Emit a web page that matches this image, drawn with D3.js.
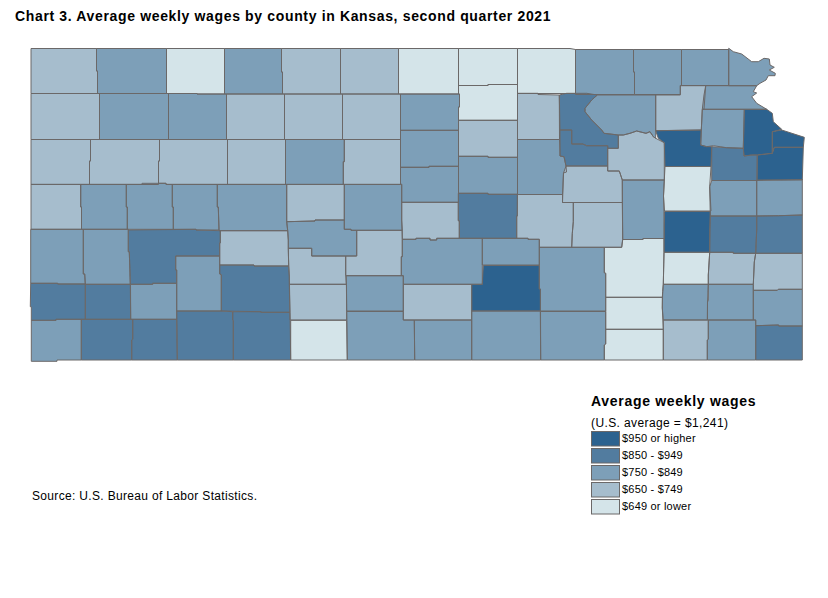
<!DOCTYPE html>
<html>
<head>
<meta charset="utf-8">
<title>Average weekly wages by county in Kansas</title>
<script src="https://cdnjs.cloudflare.com/ajax/libs/d3/7.8.5/d3.min.js"></script>
<style>
    html, body { margin: 0; padding: 0; background: #ffffff; }
    text { font-family: "Liberation Sans", Arial, sans-serif; fill: #000000; }
</style>
</head>
<body>
<div id="chart"></div>
<script>
var titleText = "Chart 3. Average weekly wages by county in Kansas, second quarter 2021";
var sourceText = "Source: U.S. Bureau of Labor Statistics.";
var legendTitle = "Average weekly wages";
var legendNote = "(U.S. average = $1,241)";

// wage bands, highest first, same order as the legend
var bandLabels = ["$950 or higher", "$850 - $949", "$750 - $849", "$650 - $749", "$649 or lower"];
var bandColors = ["#2c628f", "#527c9f", "#7d9fb8", "#a6bdcd", "#d4e4e9"];

var countyNames = [
    "Cheyenne", "Rawlins", "Decatur", "Norton", "Phillips", "Smith", "Jewell", "Republic", "Washington", "Marshall", "Nemaha", "Brown", "Doniphan",
    "Sherman", "Thomas", "Sheridan", "Graham", "Rooks", "Osborne", "Mitchell", "Cloud", "Clay", "Riley", "Pottawatomie", "Jackson", "Atchison", "Jefferson", "Leavenworth", "Wyandotte", "Johnson", "Douglas", "Shawnee", "Wabaunsee", "Geary", "Dickinson", "Morris", "Lyon", "Osage", "Franklin", "Miami",
    "Wallace", "Logan", "Gove", "Trego", "Ellis", "Russell", "Lincoln", "Ottawa", "Saline", "Ellsworth", "Rice", "McPherson", "Barton", "Rush",
    "Greeley", "Wichita", "Scott", "Lane", "Ness", "Pawnee", "Hodgeman", "Finney", "Hamilton", "Kearny", "Stanton", "Grant", "Haskell", "Gray", "Ford", "Morton", "Stevens", "Seward", "Meade", "Clark",
    "Edwards", "Stafford", "Reno", "Harvey", "Sedgwick", "Butler", "Cowley", "Sumner", "Kingman", "Harper", "Pratt", "Barber", "Comanche", "Kiowa",
    "Chase", "Marion", "Coffey", "Anderson", "Linn", "Woodson", "Allen", "Bourbon", "Wilson", "Neosho", "Crawford", "Cherokee", "Labette", "Montgomery", "Chautauqua", "Elk", "Greenwood"
];

var countyBands = [
    "$650 - $749", "$750 - $849", "$649 or lower", "$750 - $849", "$650 - $749", "$650 - $749", "$649 or lower", "$649 or lower", "$649 or lower", "$750 - $849", "$750 - $849", "$750 - $849", "$750 - $849",
    "$650 - $749", "$750 - $849", "$750 - $849", "$650 - $749", "$650 - $749", "$650 - $749", "$750 - $849", "$649 or lower", "$650 - $749", "$850 - $949", "$750 - $849", "$650 - $749", "$750 - $849", "$750 - $849", "$950 or higher", "$950 or higher", "$950 or higher", "$850 - $949", "$950 or higher", "$650 - $749", "$850 - $949", "$750 - $849", "$650 - $749", "$750 - $849", "$649 or lower", "$750 - $849", "$750 - $849",
    "$650 - $749", "$650 - $749", "$650 - $749", "$650 - $749", "$750 - $849", "$650 - $749", "$750 - $849", "$650 - $749", "$750 - $849", "$750 - $849", "$650 - $749", "$850 - $949", "$750 - $849", "$650 - $749",
    "$650 - $749", "$750 - $849", "$750 - $849", "$750 - $849", "$750 - $849", "$750 - $849", "$650 - $749", "$850 - $949", "$750 - $849", "$750 - $849", "$850 - $949", "$850 - $949", "$750 - $849", "$750 - $849", "$850 - $949", "$750 - $849", "$850 - $949", "$850 - $949", "$850 - $949", "$850 - $949",
    "$650 - $749", "$650 - $749", "$750 - $849", "$750 - $849", "$950 or higher", "$750 - $849", "$750 - $849", "$750 - $849", "$650 - $749", "$750 - $849", "$750 - $849", "$750 - $849", "$649 or lower", "$650 - $749",
    "$650 - $749", "$650 - $749", "$950 or higher", "$850 - $949", "$850 - $949", "$649 or lower", "$650 - $749", "$650 - $749", "$750 - $849", "$750 - $849", "$750 - $849", "$850 - $949", "$750 - $849", "$650 - $749", "$649 or lower", "$649 or lower", "$649 or lower"
];

// county outlines, in map units
var countyOutlines = [
    [[31,48.5],[96.5,48.5],[96.5,71],[97.5,71],[97.5,93.5],[31,93.5]],
    [[96.5,48.5],[166.5,48.5],[166.5,93.5],[97.5,93.5],[97.5,71],[96.5,71]],
    [[166.5,48.5],[224.5,48.5],[224.5,94],[197,94],[197,93.5],[166.5,93.5]],
    [[224.5,48.5],[281.5,48.5],[281.5,72],[282.5,72],[282.5,94],[224.5,94]],
    [[281.5,48.5],[340.5,48.5],[340.5,94],[282.5,94],[282.5,72],[281.5,72]],
    [[340.5,48.5],[398.5,48.5],[398.5,94],[340.5,94]],
    [[398.5,48.5],[458.5,48.5],[458.5,94],[398.5,94]],
    [[458.5,48.5],[517.5,48.5],[517.5,84.5],[488,84.5],[488,85.5],[458.5,85.5]],
    [[517.5,48.5],[570,48.5],[575.5,49.5],[575.5,93.5],[517.5,93.5]],
    [[575.5,49.5],[633.5,49.5],[633.5,72],[634.5,72],[634.5,94.5],[575.5,94.5]],
    [[633.5,49.5],[681.5,49.5],[681.5,85.5],[680.3,85.5],[680.3,94.5],[634.5,94.5],[634.5,72],[633.5,72]],
    [[681.5,49.5],[728.7,49.5],[728.7,85.5],[681.5,85.5]],
    [[728.7,48.3],[733.3,51.7],[741.7,54],[751.7,61.7],[758.3,61.7],[764,58.3],[769.3,59],[770,65],[774.3,67.3],[769.3,70],[775.3,73.3],[775,75.7],[768.3,75.7],[766,80],[760,83.3],[756.7,85.7],[728.7,85.7]],

    [[31,93.5],[99.5,93.5],[99.5,139.5],[31,139.5]],
    [[99.5,93.5],[168.5,93.5],[168.5,139.5],[99.5,139.5]],
    [[168.5,93.5],[197,93.5],[197,94],[226.5,94],[226.5,139.5],[168.5,139.5]],
    [[226.5,94],[284.5,94],[284.5,139.5],[226.5,139.5]],
    [[284.5,94],[342.5,94],[342.5,139.5],[284.5,139.5]],
    [[342.5,94],[400.5,94],[400.5,139.5],[342.5,139.5]],
    [[400.5,94],[459.5,94],[459.5,107],[458.5,107],[458.5,130.3],[400.5,130.3]],
    [[458.5,85.5],[488,85.5],[488,84.5],[517.5,84.5],[517.5,120.3],[458.5,120.3],[458.5,107],[459.5,107],[459.5,94],[458.5,94]],
    [[517.5,93.3],[538,93.3],[538,94.5],[559.3,95],[559.5,139.5],[517.5,139.5]],
    [[559.3,95],[566.7,93.3],[586.7,93.3],[597.3,95],[591.7,100],[585,108.3],[585,111.7],[591.7,120],[601.7,130],[604,133.3],[618.3,135],[618.3,148.3],[607.7,148.3],[607.7,145.7],[586.7,145.7],[582.7,144],[571.7,144],[571.7,130],[560,130]],
    [[597.3,95],[655.7,95],[655.7,138.3],[653.3,136.7],[650,131.7],[646,133.3],[636.7,131],[630,133.3],[623.3,135],[618.3,135],[604,133.3],[601.7,130],[591.7,120],[585,111.7],[585,108.3],[591.7,100]],
    [[655.7,95],[680.3,95],[680.3,85.7],[705.7,85.7],[704,109.3],[702.3,109.3],[701.3,130],[655.7,130.7]],
    [[705.7,85.7],[756.7,85.7],[753.3,91.7],[756.7,93],[751.7,96.7],[756.7,103.3],[766.7,109.3],[702.3,109.3],[704,95]],
    [[702.3,109.3],[744.3,109.3],[743.3,148.3],[726.7,147.7],[713.3,145.7],[706.7,146.7],[700.7,145],[701.3,130]],
    [[744.3,109.3],[766.7,109.3],[772.3,113.3],[773.3,121.7],[781.7,129.3],[772.3,131.7],[772.3,153.3],[757.3,155],[751.7,155],[744,156],[743.3,148.3]],
    [[772.3,131.7],[781.7,130],[804.3,137.3],[803.3,147.3],[774.3,147.3],[772.3,153.3]],
    [[757,180],[757.3,155],[772.3,153.3],[774.3,147.3],[803.3,147.3],[802.3,180]],
    [[711.7,146.7],[726.7,147.7],[743.3,148.3],[744,156],[751.7,155],[757.3,155],[757,180.5],[711.7,180.5]],
    [[655.7,130.7],[701.3,130],[700.7,145],[706.7,146.7],[711.7,146.7],[711,166.5],[665,166.5],[664.3,142.7],[658.3,138.3]],
    [[618.3,135],[623.3,135],[630,133.3],[636.7,131],[646,133.3],[650,131.7],[653.3,136.7],[655.7,138.3],[664.3,142.7],[664.3,180],[622.3,180],[619.3,171],[607.7,171],[607.7,148.3],[618.3,148.3]],
    [[560,130],[571.7,130],[571.7,144],[582.7,144],[586.7,145.7],[607.7,145.7],[607.7,166],[566,166],[564,156.7],[560,156]],
    [[517.5,139.5],[559.5,139.5],[560,156],[564,156.7],[566,166],[566.5,172],[563.5,173],[562.5,194.5],[517.5,194.5]],
    [[566,166],[607.7,166],[607.7,171],[619.3,171],[622.3,180],[622.3,202.5],[562.5,202.5],[563.5,173]],
    [[622.3,180],[664.3,180],[663.5,196],[664.3,225],[664.3,238.5],[643,238.5],[643,239.5],[622.7,239.5]],
    [[665,166.5],[711,166.5],[709.7,186.7],[711,211],[664.5,211],[663.5,196],[664.3,180]],
    [[711.7,180.5],[756.7,180.5],[756.7,216],[710.3,216],[709.7,186.7]],
    [[756.7,180.5],[802.3,179.5],[802.3,215],[778.7,215.7],[756.7,216]],

    [[31,139.5],[90.5,139.5],[90.5,161],[89.5,161],[89.5,184.5],[31,184.5]],
    [[90.5,139.5],[159.5,139.5],[159.5,161],[158.5,161],[158.5,184.5],[89.5,184.5],[89.5,161],[90.5,161]],
    [[159.5,139.5],[227.5,139.5],[227.5,184.5],[166,184.5],[166,183.3],[158.5,183.3],[158.5,161],[159.5,161]],
    [[227.5,139.5],[285.5,139.5],[285.5,184.5],[227.5,184.5]],
    [[285.5,139.5],[344.3,139.5],[344.3,161.7],[343.3,161.7],[343.3,184.5],[285.5,184.5]],
    [[344.3,139.5],[400.5,139.5],[400.5,184.5],[343.3,184.5],[343.3,161.7],[344.3,161.7]],
    [[400.5,130.3],[458.5,130.3],[458.5,166.3],[429,166.3],[429,167.3],[400.5,167.3]],
    [[458.5,120.3],[517.5,120.3],[517.5,157.3],[488,157.3],[488,156.3],[458.5,156.3]],
    [[458.5,156.3],[488,156.3],[488,157.3],[517.5,157.3],[517.5,194.3],[488,194.3],[488,193.3],[458.5,193.3]],
    [[400.5,167.3],[429,167.3],[429,166.3],[458.5,166.3],[458.5,202.3],[401.7,202.3],[401.7,184.3],[400.5,184.3]],
    [[401.7,202.3],[458.3,202.3],[458.3,220.7],[459.3,220.7],[459.3,238.3],[436.7,238.3],[436.7,240],[430,240],[430,238.3],[416,238.3],[416,239.3],[402.3,239.3],[401.7,220]],
    [[458.3,193.3],[488,193.3],[488,194.3],[517.3,194.3],[517.3,216],[516.7,216],[516.7,238.3],[459.3,238.3],[459.3,220.7],[458.3,220.7]],
    [[344.3,184.3],[401.7,184.3],[401.7,220],[402.3,230.3],[351,230.3],[351,229.3],[344.3,229.3]],
    [[286.7,184.3],[344.3,184.3],[344.3,220],[315,220],[315,221],[286.7,221.7]],

    [[31,184.3],[80.7,184.3],[80.7,207],[81.5,207],[81.5,229.3],[31,229.3]],
    [[80.7,184.3],[126.3,184.3],[126.3,207],[127.3,207],[127.3,229.3],[81.5,229.3],[81.5,207],[80.7,207]],
    [[126.3,184.3],[142,184.3],[142,183.3],[166,183.3],[166,184.3],[172.3,184.3],[172.3,207],[173.3,207],[173.3,229.3],[127.3,229.3],[127.3,207],[126.3,207]],
    [[172.3,184.3],[217.3,184.3],[217.3,207],[218.3,207],[219,230],[196,230],[196,229.3],[173.3,229.3],[173.3,207],[172.3,207]],
    [[217.3,184.3],[286.7,184.3],[286.7,221.7],[287.7,230.7],[219,230.7],[218.3,207],[217.3,207]],
    [[286.7,221.7],[315,221],[315,220],[344.3,220],[344.3,229.3],[351,229.3],[351,230.3],[356.7,230.3],[356.7,256],[311.7,256],[311.7,248.3],[288.3,248.3],[288.3,240],[287.7,230.7]],
    [[220.3,230.7],[287.7,230.7],[288.3,240],[288.3,248.3],[288.7,266],[254,266],[254,265],[219.7,265],[219.7,243],[220.3,243]],
    [[128.3,230],[196,229.3],[196,230],[220.3,230.7],[220.3,242.7],[219.7,242.7],[219.7,256],[175.7,256],[175.7,270],[176.7,270],[176.7,283.3],[152.7,283.3],[152.7,284.3],[130.3,284.3],[129.3,251.7],[128.3,251.7]],
    [[30.7,229.3],[83.3,229.3],[83.3,274],[84.7,274],[85.3,284],[57.7,284],[57.7,283.3],[30.7,283.3]],
    [[83.3,229.3],[128.3,229.3],[128.3,251.7],[129.3,251.7],[130.3,284.3],[85.3,284.3],[84.7,274],[83.3,274]],
    [[30.7,283.3],[57.7,283.3],[57.7,284],[85.3,284],[85.3,319.3],[56,319.3],[56,320.3],[31.3,320.3],[31.3,306.7],[30.3,306.7]],
    [[85.3,284.3],[130.3,284.3],[130.7,319.3],[85.3,319.3]],
    [[130.5,284.3],[152.7,284.3],[152.7,283.3],[176.7,283.3],[176.7,319.3],[130.7,319.3]],
    [[175.7,256],[219.7,256],[219.7,274],[221.3,274.7],[221.3,311],[176.7,311],[176.7,270],[175.7,270]],
    [[219.7,265],[254,265],[254,266],[288.7,266],[289.3,276],[290,312.3],[261,312.3],[261,311.7],[221.3,311],[221.3,274.7],[219.7,274]],
    [[31.3,320.3],[56,320.3],[56,319.3],[81.3,319.3],[81.3,360],[57,360],[57,361.3],[31.3,361.3]],
    [[81.3,319.3],[132.7,319.3],[132.7,339.3],[131.7,340],[131.7,360],[81.3,360]],
    [[132.7,319.3],[176.7,319.3],[177.3,360],[131.7,360],[131.7,340],[132.7,339.3]],
    [[176.7,311],[221.3,311],[232.7,311.7],[232.7,320],[233.3,320.7],[233.3,360],[177.3,360]],
    [[232.7,311.7],[261,311.7],[261,312.3],[290,312.3],[290.7,360],[233.3,360],[233.3,320.7],[232.7,320]],

    [[288.3,248.3],[311.7,248.3],[311.7,256],[345.7,256],[345.7,275.7],[346.3,284.3],[289.3,284.3],[289.3,276],[288.7,266]],
    [[356.7,230.3],[402.3,230.3],[402.3,256.7],[401.3,256.7],[401.3,275.7],[345.7,275.7],[345.7,256],[356.7,256]],
    [[402.3,239.3],[416,239.3],[416,238.3],[430,238.3],[430,240],[436.7,240],[436.7,238.3],[482.3,238.3],[482.3,284.3],[403.3,284.3],[403.3,275.7],[401.3,275.7],[401.3,256.7],[402.3,256.7]],
    [[482.3,238.3],[528,238.3],[528,239.3],[539.3,239.3],[539.3,265],[482.3,265]],
    [[483.3,265.5],[539.3,265.5],[539.3,289],[540.3,289],[540.3,311],[471.7,311],[471.7,284.3],[482.3,284.3]],
    [[539.3,247.3],[604.3,247.3],[604.3,272.7],[605.7,273.3],[605.7,311],[540.5,311],[540.5,289],[539.3,289]],
    [[540.5,311.5],[605.7,311.5],[605.7,344],[604.3,345],[604.3,360],[540.7,360]],
    [[471.7,311],[540.3,311],[540.7,360],[471.7,360]],
    [[403.3,284.3],[471.7,284.3],[471.7,320],[403.3,320]],
    [[414.3,320],[471.7,320],[471.7,360],[414.7,360]],
    [[346.3,275.7],[403.3,275.7],[403.3,311],[346.7,311]],
    [[346.7,311.5],[403.3,311.5],[403.3,320],[414.3,320],[414.7,360],[347.3,360]],
    [[290.7,320.3],[346.7,320.3],[347.3,360],[290.7,360]],
    [[289.3,284.3],[346.5,284.3],[346.7,320],[290,320]],

    [[573.3,202.5],[622.3,202.5],[622.7,239.5],[621.7,247.3],[571.7,247.3],[572.3,233.3],[573.3,221.7]],
    [[517.5,194.5],[562.5,194.5],[562.5,202.5],[573.3,202.5],[573.3,221.7],[572.3,233.3],[571.7,247.3],[539.3,247.3],[539.3,239.3],[528,239.3],[528,238.3],[516.7,238.3],[516.7,216],[517.3,216]],
    [[664.5,211.5],[710.3,211.5],[709.7,252.3],[664,252.3],[664,225]],
    [[710.3,216],[756.7,216],[756.7,230],[755.7,253.3],[733.3,253.3],[733.3,252.3],[709.7,252.3],[709.7,230]],
    [[756.7,216],[778.7,215.7],[802.3,215],[802.3,253.3],[755.7,253.3],[756.7,230]],
    [[664,252.3],[709.7,252.3],[708.3,275],[708.3,284.3],[663.3,284.3]],
    [[709.7,252.3],[733.3,252.3],[733.3,253.3],[755.7,253.3],[754.3,262],[753.3,284.3],[708.3,284.3],[708.3,275]],
    [[755.7,253.3],[802.3,253.3],[802.3,289.3],[778.3,289.3],[777.3,290.3],[753.3,290.3],[753.3,284.3],[754.3,262]],
    [[663.3,284.3],[708.3,284.3],[707.5,302],[707.3,320],[663.3,320],[662.3,308],[662.7,291.7]],
    [[708.3,284.3],[753.3,284.3],[753.3,320],[707.5,320],[707.5,302],[708.3,300]],
    [[753.3,290.3],[777.3,290.3],[778.3,289.3],[802.3,289.3],[802.3,326],[778.7,326],[778.7,325],[755.7,325.7],[755.7,320],[753.3,320]],
    [[755.7,325.7],[778.7,325],[778.7,326],[802.3,326],[802.3,360],[755.7,360]],
    [[708.3,320],[755.7,320],[755.7,360],[707.3,360],[707.3,340],[708.3,339.3]],
    [[663.3,320],[708.3,320],[708.3,339.3],[707.3,340],[707.3,360],[663.3,360]],
    [[605.7,329.3],[663.3,329.3],[663.3,360],[604.3,360],[604.3,345],[605.7,344]],
    [[605.7,297.3],[662.3,297.3],[662.3,308],[663.3,329.3],[605.7,329.3]],
    [[604.3,247.3],[621.7,247.3],[622.7,239.5],[643,239.5],[643,238.5],[664,238.5],[664,252.3],[663.3,284.3],[662.7,291.7],[662.3,297.3],[605.7,297.3],[605.7,273.3],[604.3,272.7]]
];

var w = 828;
var h = 598;

var svg = d3.select("#chart").append("svg")
    .attr("width", w)
    .attr("height", h)
    .style("display", "block");

var mapX = d3.scaleLinear().domain([30, 805]).range([30, 805]);
var mapY = d3.scaleLinear().domain([48, 362]).range([48, 362]);
var bandColor = d3.scaleOrdinal().domain(bandLabels).range(bandColors);

var outline = d3.line()
    .x(function (d) { return mapX(d[0]); })
    .y(function (d) { return mapY(d[1]); })
    .curve(d3.curveLinearClosed);

// fills first, borders in their own layer so no county paints over a neighbour's line
svg.append("g").selectAll("path")
    .data(countyNames)
    .enter()
    .append("path")
    .attr("d", function (d, i) { return outline(countyOutlines[i]); })
    .attr("fill", function (d, i) { return bandColor(countyBands[i]); })
    .append("title")
    .text(function (d) { return d; });

svg.append("g").selectAll("path")
    .data(countyNames)
    .enter()
    .append("path")
    .attr("d", function (d, i) { return outline(countyOutlines[i]); })
    .attr("fill", "none")
    .attr("stroke", "#6b6868")
    .attr("stroke-width", 1);

svg.append("text")
    .attr("x", 15)
    .attr("y", 21)
    .attr("font-size", 14)
    .attr("font-weight", "bold")
    .attr("letter-spacing", 0.65)
    .text(titleText);

svg.append("text")
    .attr("x", 32)
    .attr("y", 500)
    .attr("font-size", 12)
    .attr("letter-spacing", 0.33)
    .text(sourceText);

// legend
var legendX = 591;
var legendY = d3.scaleBand().domain(bandLabels).range([431, 516]);

svg.append("text")
    .attr("x", legendX)
    .attr("y", 406)
    .attr("font-size", 14)
    .attr("font-weight", "bold")
    .attr("letter-spacing", 0.7)
    .text(legendTitle);

svg.append("text")
    .attr("x", legendX)
    .attr("y", 427)
    .attr("font-size", 12)
    .attr("letter-spacing", 0.39)
    .text(legendNote);

var legendRows = svg.append("g").selectAll("g")
    .data(bandLabels)
    .enter()
    .append("g")
    .attr("transform", function (d) { return "translate(" + legendX + "," + legendY(d) + ")"; });

legendRows.append("rect")
    .attr("x", 0.5)
    .attr("y", 0.5)
    .attr("width", 28)
    .attr("height", legendY.bandwidth() - 2.5)
    .attr("fill", function (d) { return bandColor(d); })
    .attr("stroke", "#6b6868");

legendRows.append("text")
    .attr("x", 31)
    .attr("y", 11)
    .attr("font-size", 11)
    .attr("letter-spacing", 0.2)
    .text(function (d) { return d; });
</script>
</body>
</html>
